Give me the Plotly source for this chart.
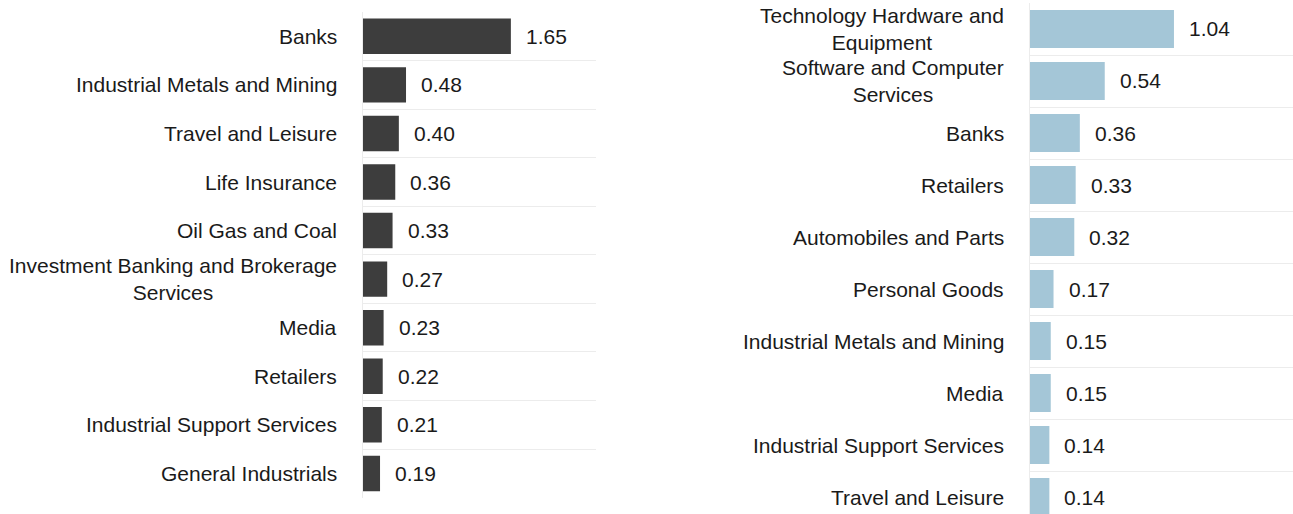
import plotly.graph_objects as go

# Left panel: sector contributions
left_sectors = [
    "Banks",
    "Industrial Metals and Mining",
    "Travel and Leisure",
    "Life Insurance",
    "Oil Gas and Coal",
    "Investment Banking and Brokerage<br>Services",
    "Media",
    "Retailers",
    "Industrial Support Services",
    "General Industrials",
]
left_values = [1.65, 0.48, 0.40, 0.36, 0.33, 0.27, 0.23, 0.22, 0.21, 0.19]

# Right panel: sector contributions
right_sectors = [
    "Technology Hardware and<br>Equipment",
    "Software and Computer<br>Services",
    "Banks",
    "Retailers",
    "Automobiles and Parts",
    "Personal Goods",
    "Industrial Metals and Mining",
    "Media",
    "Industrial Support Services",
    "Travel and Leisure",
]
right_values = [1.04, 0.54, 0.36, 0.33, 0.32, 0.17, 0.15, 0.15, 0.14, 0.14]

W, H = 1293, 514
FONT = "Arial, Liberation Sans, sans-serif"
TXT = "#1a1a1a"
GRID = "#ececec"

fig = go.Figure()

fig.add_trace(go.Bar(
    x=left_values, y=left_sectors, orientation="h",
    marker=dict(color="#3d3d3d", line=dict(width=0)),
    xaxis="x", yaxis="y", hoverinfo="skip",
))
fig.add_trace(go.Bar(
    x=right_values, y=right_sectors, orientation="h",
    marker=dict(color="#a4c6d7", line=dict(width=0)),
    xaxis="x2", yaxis="y2", hoverinfo="skip",
))

annotations = []
for sectors, values, xr, yr in [
    (left_sectors, left_values, "x", "y"),
    (right_sectors, right_values, "x2", "y2"),
]:
    for s, v in zip(sectors, values):
        # value label to the right of the bar
        annotations.append(dict(
            x=v, y=s, xref=xr, yref=yr, text=f"{v:.2f}",
            xanchor="left", yanchor="middle", xshift=13, showarrow=False,
            font=dict(family=FONT, size=21, color=TXT),
        ))
        # category label, centred lines, right-aligned to the axis
        annotations.append(dict(
            x=0, y=s, xref=xr, yref=yr, text=s,
            xanchor="right", yanchor="middle", xshift=-24, showarrow=False,
            align="center",
            font=dict(family=FONT, size=21, color=TXT),
        ))

# Pixel-based domains
lx0, lx1 = 363 / W, 596 / W
ly0, ly1 = 1 - 497.7 / H, 1 - 12 / H
rx0, rx1 = 1030 / W, 1.0
ry0, ry1 = 0.0, 1 - 3 / H
# right panel rows are 52 px tall; the last row runs past the bottom edge
r_visible_rows = (H - 3) / 52.0

common_y = dict(
    type="category", tickson="boundaries", showgrid=True, gridcolor=GRID,
    gridwidth=1, showticklabels=False, ticks="", showline=True,
    linecolor=GRID, linewidth=1, zeroline=False,
)
common_x = dict(showgrid=False, zeroline=False, showticklabels=False,
                ticks="", showline=False)

fig.update_layout(
    width=W, height=H,
    margin=dict(l=0, r=0, t=0, b=0),
    paper_bgcolor="white", plot_bgcolor="white",
    showlegend=False,
    bargap=0.27,
    xaxis=dict(domain=[lx0, lx1], range=[0, 2.6], anchor="y", **common_x),
    yaxis=dict(domain=[ly0, ly1], range=[9.5, -0.5], anchor="x",
               categoryorder="array", categoryarray=left_sectors, **common_y),
    xaxis2=dict(domain=[rx0, rx1], range=[0, 1.9], anchor="y2", **common_x),
    yaxis2=dict(domain=[ry0, ry1], range=[-0.5 + r_visible_rows, -0.5],
                anchor="x2", categoryorder="array",
                categoryarray=right_sectors, **common_y),
    annotations=annotations,
)

fig.write_html("out.html")
